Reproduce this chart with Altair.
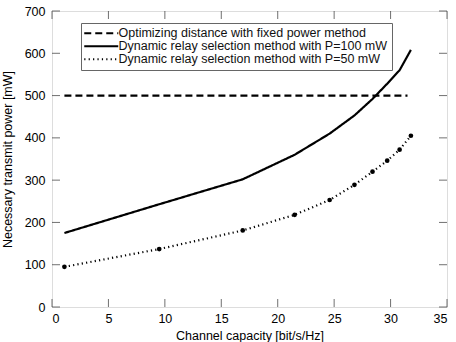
import altair as alt
import pandas as pd

# Channel capacity [bit/s/Hz] at which each method was evaluated
capacity = [1.1, 9.5, 16.9, 21.5, 24.6, 26.8, 28.4, 29.7, 30.8, 31.8]
# Necessary transmit power [mW]
power_p100 = [175, 243, 302, 360, 410, 453, 492, 528, 560, 608]
power_p50 = [95, 137, 181, 218, 253, 289, 320, 346, 372, 405]
# Fixed-power reference level
fixed_capacity = [1.1, 31.5]
fixed_power = [500, 500]

series_names = [
    "Optimizing distance with fixed power method",
    "Dynamic relay selection method with P=100 mW",
    "Dynamic relay selection method with P=50 mW",
]
x_ticks = [0, 5, 10, 15, 20, 25, 30, 35]
y_ticks = [0, 100, 200, 300, 400, 500, 600, 700]

rows = []
for x, y in zip(fixed_capacity, fixed_power):
    rows.append({"series": series_names[0], "cap": x, "pw": y})
for x, y in zip(capacity, power_p100):
    rows.append({"series": series_names[1], "cap": x, "pw": y})
for x, y in zip(capacity, power_p50):
    rows.append({"series": series_names[2], "cap": x, "pw": y})
df = pd.DataFrame(rows)
markers = pd.DataFrame({"cap": capacity, "pw": power_p50})

FONT = "Liberation Sans"
FS = 12.5
x_scale = alt.Scale(domain=[0, 35], nice=False)
y_scale = alt.Scale(domain=[0, 700], nice=False)

x_enc = alt.X(
    "cap:Q", scale=x_scale,
    axis=alt.Axis(values=x_ticks, title="Channel capacity [bit/s/Hz]", grid=False,
                  domain=False, ticks=False, labelPadding=5, titlePadding=5,
                  titleFontWeight="normal", labelFontSize=FS, titleFontSize=FS),
)
y_enc = alt.Y(
    "pw:Q", scale=y_scale,
    axis=alt.Axis(values=y_ticks, title="Necessary transmit power [mW]", grid=False,
                  domain=False, ticks=False, labelPadding=7, titlePadding=10,
                  titleFontWeight="normal", labelFontSize=FS, titleFontSize=FS),
)

lines = alt.Chart(df).mark_line(color="black").encode(
    x=x_enc,
    y=y_enc,
    strokeDash=alt.StrokeDash(
        "series:N",
        scale=alt.Scale(domain=series_names, range=[[7, 4], [1, 0], [1.2, 3.2]]),
        legend=alt.Legend(
            title=None, orient="none", legendX=29, legendY=12,
            # short horizontal stroke, 34 px long, drawn as the legend symbol
            symbolType="M-1.75,0H6.75", symbolSize=64, symbolStrokeColor="black",
            symbolStrokeWidth=2,
            labelFont=FONT, labelFontSize=FS, labelColor="#111", labelOffset=21,
            rowPadding=0, padding=4, fillColor="white", strokeColor="#666",
            labelLimit=400,
        ),
    ),
    strokeWidth=alt.StrokeWidth(
        "series:N",
        scale=alt.Scale(domain=series_names, range=[2.2, 2.2, 1.2]),
        legend=None,
    ),
    detail="series:N",
)

points = alt.Chart(markers).mark_point(
    filled=True, color="black", size=22, opacity=1, shape="circle"
).encode(x="cap:Q", y="pw:Q")

# Inward ticks on all four sides of the frame
xt = pd.DataFrame({"v": x_ticks})
yt = pd.DataFrame({"v": y_ticks})
tick_style = dict(color="#333", thickness=1, size=8)
bottom_ticks = alt.Chart(xt).mark_tick(orient="vertical", yOffset=-4, **tick_style).encode(
    x="v:Q", y=alt.datum(0))
top_ticks = alt.Chart(xt).mark_tick(orient="vertical", yOffset=4, **tick_style).encode(
    x="v:Q", y=alt.datum(700))
left_ticks = alt.Chart(yt).mark_tick(orient="horizontal", xOffset=4, **tick_style).encode(
    y="v:Q", x=alt.datum(0))
right_ticks = alt.Chart(yt).mark_tick(orient="horizontal", xOffset=-4, **tick_style).encode(
    y="v:Q", x=alt.datum(35))

chart = (
    alt.layer(lines, points, bottom_ticks, top_ticks, left_ticks, right_ticks)
    .properties(
        width=395, height=296,
        autosize=alt.AutoSizeParams(type="none"),
        padding={"left": 52, "top": 11, "right": 9, "bottom": 35},
    )
    .configure_view(stroke="#444", strokeWidth=1.2)
    .configure_axis(labelFont=FONT, titleFont=FONT, labelColor="#222",
                    titleColor="#222", titleFontWeight="normal")
    .configure(background="white")
)

chart.save("out.html", embed_options={"renderer": "svg", "actions": False})
